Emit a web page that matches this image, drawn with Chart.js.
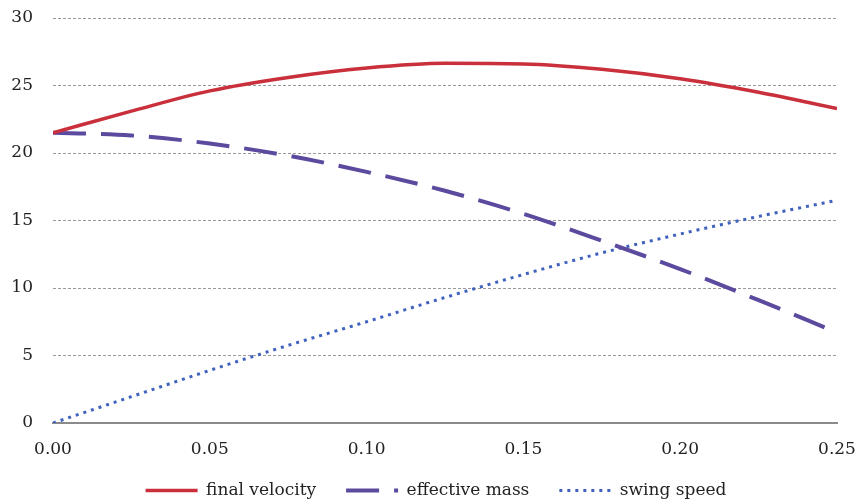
<!DOCTYPE html>
<html>
<head>
<meta charset="utf-8">
<script src="https://cdn.jsdelivr.net/npm/chart.js@4/dist/chart.umd.min.js"></script>
<style>
  html, body { margin: 0; padding: 0; background: #ffffff; }
  #wrap { width: 857px; height: 504px; position: relative; }
</style>
</head>
<body>
<div id="wrap"><canvas id="c" width="857" height="504"></canvas></div>
<script>
const xValues = [0, 0.025, 0.05, 0.075, 0.1, 0.125, 0.15, 0.175, 0.2, 0.225, 0.25];
const finalVelocity = [21.5, 23.1, 24.6, 25.6, 26.3, 26.65, 26.6, 26.2, 25.5, 24.5, 23.3];
const effectiveMass = [21.5, 21.3, 20.7, 19.8, 18.6, 17.2, 15.5, 13.5, 11.4, 9.1, 6.7];
const swingSpeed = [0, 1.95, 3.9, 5.75, 7.5, 9.3, 11.0, 12.6, 14.0, 15.3, 16.5];
const seriesNames = ["final velocity", "effective mass", "swing speed"];
const xTicks = [0, 0.05, 0.1, 0.15, 0.2, 0.25];
const yTicks = [0, 5, 10, 15, 20, 25, 30];

const FONT = "'DejaVu Serif', 'Liberation Serif', serif";
const pts = arr => arr.map((v, i) => ({ x: xValues[i], y: v }));
const COLORS = ['#C9303C', '#5B4A9E', '#3F62BF'];
const DASHES = [[], [33, 15], [3, 5]];
const WIDTHS = [3.5, 4, 3];

new Chart(document.getElementById('c'), {
  type: 'line',
  data: {
    datasets: [finalVelocity, effectiveMass, swingSpeed].map((arr, i) => ({
      label: seriesNames[i], data: pts(arr), borderColor: COLORS[i], backgroundColor: COLORS[i],
      borderWidth: WIDTHS[i], borderDash: DASHES[i], pointRadius: 0,
      cubicInterpolationMode: 'monotone', borderCapStyle: 'butt'
    }))
  },
  options: {
    responsive: false,
    animation: false,
    devicePixelRatio: 1,
    layout: { padding: { top: 18, right: 20, left: 35, bottom: -5 } },
    plugins: {
      tooltip: { enabled: false },
      legend: {
        position: 'bottom',
        labels: {
          usePointStyle: true,
          pointStyle: 'line',
          pointStyleWidth: 52,
          boxWidth: 52,
          boxHeight: 4,
          padding: 30,
          color: '#222',
          font: { family: FONT, size: 17 },
          generateLabels: chart => chart.data.datasets.map((ds, i) => ({
            text: ds.label, datasetIndex: i, fillStyle: COLORS[i], strokeStyle: COLORS[i],
            lineWidth: WIDTHS[i], lineDash: DASHES[i], lineCap: 'butt', pointStyle: 'line',
            fontColor: '#222', hidden: false
          }))
        }
      }
    },
    scales: {
      x: {
        type: 'linear',
        min: 0, max: 0.25,
        afterBuildTicks: s => { s.ticks = xTicks.map(v => ({ value: v })); },
        afterFit: s => {
          s.height = 29; s.paddingLeft = 0; s.paddingRight = 0;
          s._computeLabelArea = () => undefined;
        },
        grid: { display: false, drawTicks: false },
        border: { display: true, color: '#8a8a8a', width: 2 },
        ticks: { padding: 16, color: '#222', font: { family: FONT, size: 17 },
                 callback: v => Number(v).toFixed(2), maxRotation: 0 }
      },
      y: {
        min: 0, max: 30,
        afterBuildTicks: s => { s.ticks = yTicks.map(v => ({ value: v })); },
        afterFit: s => {
          s.width = 18; s.paddingTop = 0; s.paddingBottom = 0;
          s._computeLabelArea = () => undefined;
        },
        grid: { drawTicks: false, color: ctx => ctx.tick && ctx.tick.value === 0 ? 'rgba(0,0,0,0)' : '#9a9a9a',
                lineWidth: 1 },
        border: { display: false, dash: [3, 2] },
        ticks: { padding: 20, color: '#222', font: { family: FONT, size: 17 } }
      }
    }
  }
});
</script>
</body>
</html>
